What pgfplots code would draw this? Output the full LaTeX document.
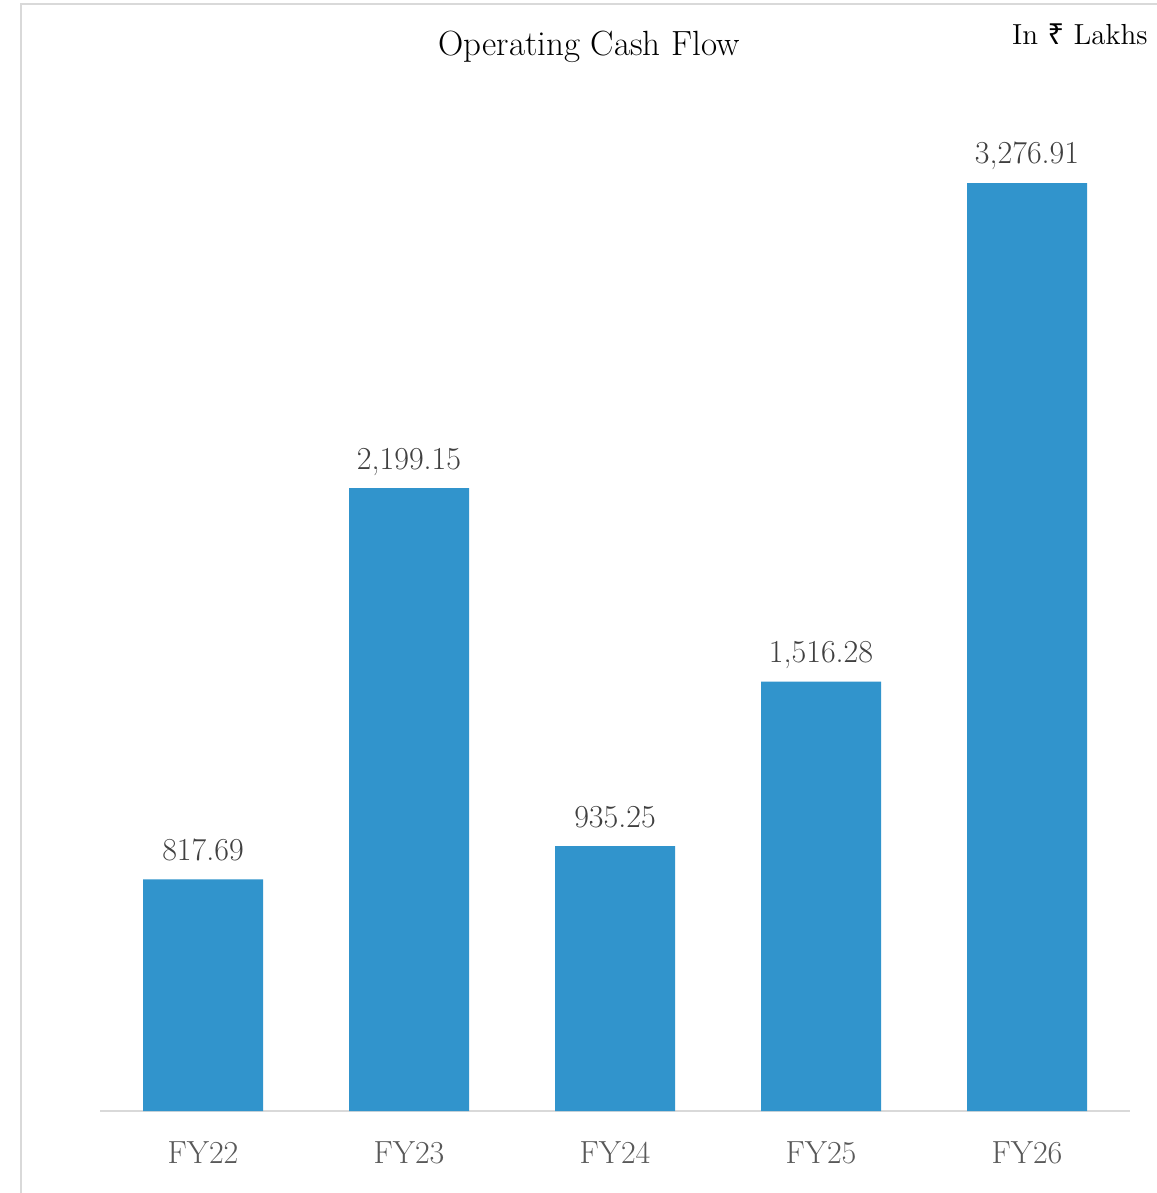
\documentclass[border=0pt]{standalone}
\usepackage{pgfplots}
\pgfplotsset{compat=1.18}
\usepackage{fontspec}
\newfontfamily\rup{Noto Sans}
\definecolor{barblue}{RGB}{49,148,204}
\definecolor{labgray}{RGB}{64,64,64}
\definecolor{tickgray}{RGB}{89,89,89}
\definecolor{linegray}{RGB}{217,217,217}
\begin{document}
\begin{tikzpicture}
\useasboundingbox (0,0) rectangle (578pt,-596.5pt);
\fill[white] (0,0) rectangle (578pt,-596.5pt);
\draw[linegray, line width=1pt] (10.25pt,-600pt) -- (10.25pt,-2.25pt) -- (590pt,-2.25pt);
\begin{axis}[
  at={(50pt,-555.5pt)}, anchor=south west,
  scale only axis,
  width=515pt, height=509.75pt,
  xmin=-0.5, xmax=4.5, ymin=0, ymax=3600,
  ybar, bar width=60pt,
  axis y line=none,
  axis x line*=bottom,
  x axis line style={draw=linegray, line width=1pt, -},
  xtick={0,1,2,3,4},
  xticklabels={FY22,FY23,FY24,FY25,FY26},
  major tick length=0pt,
  xticklabel style={font=\fontsize{16}{19}\selectfont, text=tickgray, anchor=base, yshift=-26pt, inner sep=0pt},
  nodes near coords,
  every node near coord/.append style={font=\fontsize{16}{19}\selectfont, text=labgray, anchor=base, yshift=9.5pt, inner sep=0pt},
  /pgf/number format/.cd, fixed, fixed zerofill, precision=2, 1000 sep={,}, assume math mode=true,
]
\addplot[fill=barblue, draw=none] coordinates {(0,817.69) (1,2199.15) (2,935.25) (3,1516.28) (4,3276.91)};
\end{axis}
\node[anchor=base, font=\fontsize{17.5}{21}\selectfont, text=black] at (294.5pt,-28pt) {Operating Cash Flow};
\node[anchor=base east, font=\fontsize{14.5}{17}\selectfont, text=black, inner sep=0pt] at (574pt,-22.5pt) {In {\rup ₹} Lakhs};
\end{tikzpicture}
\end{document}
